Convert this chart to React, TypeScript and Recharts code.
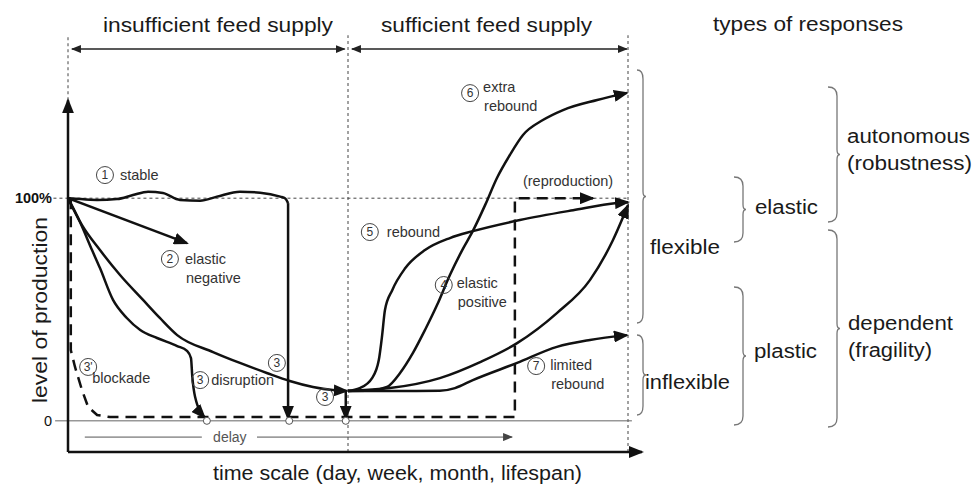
import React from 'react';
import { LineChart, Line, XAxis, YAxis, ReferenceLine, ReferenceDot } from 'recharts';

type Pt = [number, number];

// x = time (0 = start of shortage, 50 = feed restored, 100 = end), y = % of production
const stableCurve: Pt[] = [
  [0, 100], [0.7, 99.9], [5.2, 99.2], [8.75, 99.6], [11.6, 101.4], [14.3, 102.9], [16.95, 102.3],
  [20, 99.2], [23.6, 98.9], [26.6, 100.7], [30.7, 102.9], [34.3, 102.5], [37.9, 100.7], [38.8, 99.9], [39.3, 97.8],
];
const stableDrop: Pt[] = [[39.3, 97.8], [39.3, 1]];
const elasticNegative: Pt[] = [[0, 100], [21.25, 79.8]];
const disruption: Pt[] = [
  [0, 100], [2.14, 89.3], [4.29, 76.7], [5.71, 68.6], [8.04, 54.3], [10.5, 46.2], [12.9, 40.8],
  [15.9, 37.2], [19.5, 33.6], [21.25, 31.4], [21.96, 28.2], [22.2, 19.7], [22.7, 10.7], [24.4, 1.5],
];
const gradualDecline: Pt[] = [
  [0, 100], [2.5, 87.9], [5.71, 76.7], [9.29, 65.5], [13.4, 54.3], [16.4, 46.2], [19.5, 38.5],
  [25.9, 30.9], [30.7, 26.0], [35.5, 21.5], [39.6, 17.9], [43.75, 15.2], [47.3, 13.8], [49.8, 13.4],
];
const lateDrop: Pt[] = [[49.6, 13], [49.6, 1]];
const blockade: Pt[] = [
  [0.5, 100], [0.5, 31.8], [1.25, 24.2], [2.5, 13.8], [3.6, 6.2], [5.2, 2.6], [7.5, 1.7],
  [79.8, 1.7], [79.8, 100], [93.75, 100],
];
const rebound: Pt[] = [
  [50, 13.4], [52.1, 14.7], [54.3, 19.2], [55.5, 27.3], [56.1, 38.5], [56.6, 49.8], [57.9, 58.7],
  [60.2, 68.5], [63.75, 76.7], [68.2, 82.1], [72.3, 85.2], [80.7, 90.2], [90.2, 94.6], [98, 97.8], [100, 98.2],
];
const extraRebound: Pt[] = [
  [50, 13.4], [54, 13.6], [56.96, 15.2], [59.3, 21.5], [61.6, 30.5], [63.75, 40.8], [65.9, 52.0],
  [68.2, 65.5], [70.4, 76.7], [72.3, 85.3], [74.5, 97.0], [76.6, 109.1], [78.9, 119.4], [81.25, 128.4],
  [84.8, 135.1], [88.4, 139.6], [94.5, 144.1], [99.8, 147.3],
];
const elasticPositive: Pt[] = [
  [50, 13.4], [57.5, 14.7], [66.4, 19.2], [73.6, 26.4], [80.2, 34.9], [87.3, 48.4], [93.2, 63.2],
  [97.3, 81.1], [100, 96.8],
];
const limitedRebound: Pt[] = [
  [50, 13.4], [60, 13.4], [66.4, 13.5], [69.1, 14.7], [72.3, 18.3], [80.2, 26.0], [87.3, 33.2],
  [93.2, 36.3], [99.8, 38.5],
];
const zeroMarks = [24.8, 39.5, 49.6];
const yTicks = [0, 100];

const notes = [
  { n: '1', x: 6.6, y: 110.4, lines: ['stable'] },
  { n: '2', x: 18.2, y: 72.7, lines: ['elastic', 'negative'] },
  { n: "3'", x: 3.6, y: 24.2, lines: ['blockade'], dx: 4, dy: 16 },
  { n: '3', x: 23.6, y: 18.3, lines: ['disruption'], dx: 11 },
  { n: '3', x: 37.3, y: 26.0, lines: [] },
  { n: '3', x: 45.9, y: 10.7, lines: [] },
  { n: '4', x: 67.1, y: 61.0, lines: ['elastic', 'positive'], dx: 13, dy: 3 },
  { n: '5', x: 53.9, y: 84.8, lines: ['rebound'], dx: 17 },
  { n: '6', x: 71.8, y: 147.2, lines: ['extra', 'rebound'], dx: 13, dy: -1 },
  { n: '7', x: 83.6, y: 24.6, lines: ['limited', 'rebound'], dx: 14, dy: 4 },
];

const FONT = "'Liberation Sans', Arial, Helvetica, sans-serif";
const ink = '#111';

const toRows = (pts: Pt[]) => pts.map(([x, y]) => ({ x, y }));

const Note = ({ cx, cy, note }: any) => {
  const dx = note.dx ?? 15;
  const dy = note.dy ?? 5;
  return (
    <g>
      <circle cx={cx} cy={cy} r={8.5} fill="none" stroke="#444" strokeWidth={1} />
      <text x={cx} y={cy + 4} textAnchor="middle" fontSize={12} fill="#333" fontFamily={FONT}>{note.n}</text>
      {note.lines.map((t: string, i: number) => (
        <text key={i} x={cx + dx + (i > 0 ? 1 : 0)} y={cy + dy + i * 19} fontSize={14.5} fill="#333" fontFamily={FONT}>{t}</text>
      ))}
    </g>
  );
};

const YTick = ({ x, y, payload }: any) => (
  <text x={x} y={y} dy={5} textAnchor="end" fontSize={14.5} fontWeight={payload.value === 100 ? 700 : 400} fill={ink} fontFamily={FONT}>
    {payload.value === 100 ? '100%' : '0'}
  </text>
);

const brace = (x0: number, x1: number, y0: number, y1: number) => {
  const ym = (y0 + y1) / 2;
  return `M${x0},${y0} Q${x1},${y0} ${x1},${y0 + 9} L${x1},${ym - 5} Q${x1},${ym} ${x1 + 3},${ym} Q${x1},${ym} ${x1},${ym + 5} L${x1},${y1 - 9} Q${x1},${y1} ${x0},${y1}`;
};

const braces = [
  [637, 643, 70, 323],
  [637, 643, 335, 415],
  [734, 743, 177, 242],
  [734, 743, 287, 425],
  [828, 837, 87, 222],
  [828, 837, 230, 427],
];

const T = ({ x, y, w, children, size = 20 }: any) => (
  <text x={x} y={y} fontSize={size} fill="#1a1a1a" fontFamily={FONT} textLength={w} lengthAdjust="spacingAndGlyphs">{children}</text>
);

const curveProps = {
  dataKey: 'y',
  stroke: ink,
  strokeWidth: 2.5,
  dot: false,
  activeDot: false,
  isAnimationActive: false,
  fill: 'none',
} as const;

export default function App() {
  return (
    <div style={{ position: 'absolute', left: 0, top: 0, width: 974, height: 486, background: '#fff' }}>
      <svg width={0} height={0} style={{ position: 'absolute' }}>
        <defs>
          <marker id="ah" markerUnits="userSpaceOnUse" markerWidth={15} markerHeight={12} refX={13} refY={6} orient="auto-start-reverse">
            <path d="M0,0 L15,6 L0,12 z" fill={ink} />
          </marker>
          <marker id="ahs" markerUnits="userSpaceOnUse" markerWidth={10} markerHeight={8} refX={9} refY={4} orient="auto-start-reverse">
            <path d="M0,0 L10,4 L0,8 z" fill="#222" />
          </marker>
          <marker id="ahg" markerUnits="userSpaceOnUse" markerWidth={10} markerHeight={8} refX={9} refY={4} orient="auto-start-reverse">
            <path d="M0,0 L10,4 L0,8 z" fill="#444" />
          </marker>
        </defs>
      </svg>
      <LineChart width={974} height={486} margin={{ top: 88, right: 332, bottom: 34, left: 8 }}>
        <XAxis type="number" dataKey="x" domain={[0, 102.5]} allowDataOverflow hide />
        <YAxis
          type="number"
          domain={[-14, 149.5]}
          allowDataOverflow
          ticks={yTicks}
          interval={0}
          width={60}
          axisLine={false}
          tickLine={false}
          tickSize={8}
          tickMargin={8}
          tick={<YTick />}
        />

        {/* guides */}
        <ReferenceLine segment={[{ x: 0, y: 144 }, { x: 0, y: 173.2 }]} stroke="#444" strokeDasharray="3 3" ifOverflow="visible" />
        <ReferenceLine segment={[{ x: 50, y: -14 }, { x: 50, y: 173.2 }]} stroke="#444" strokeDasharray="3 3" ifOverflow="visible" />
        <ReferenceLine segment={[{ x: 100, y: -14 }, { x: 100, y: 173.2 }]} stroke="#444" strokeDasharray="3 3" ifOverflow="visible" />
        <ReferenceLine segment={[{ x: -2.6, y: 100 }, { x: 100, y: 100 }]} stroke="#444" strokeDasharray="3 3" ifOverflow="visible" />
        <ReferenceLine segment={[{ x: -2.3, y: 0 }, { x: 100.7, y: 0 }]} stroke="#666" strokeWidth={1} ifOverflow="visible" />
        <ReferenceLine segment={[{ x: 0.7, y: 167 }, { x: 49.4, y: 167 }]} stroke="#222" strokeWidth={1.5} markerStart="url(#ahs)" markerEnd="url(#ahs)" ifOverflow="visible" />
        <ReferenceLine segment={[{ x: 50.7, y: 167 }, { x: 99.8, y: 167 }]} stroke="#222" strokeWidth={1.5} markerStart="url(#ahs)" markerEnd="url(#ahs)" ifOverflow="visible" />
        <ReferenceLine segment={[{ x: 3.0, y: -7.3 }, { x: 23.9, y: -7.3 }]} stroke="#555" strokeWidth={1} ifOverflow="visible" />
        <ReferenceLine segment={[{ x: 33.75, y: -7.3 }, { x: 79.3, y: -7.3 }]} stroke="#555" strokeWidth={1} markerEnd="url(#ahg)" ifOverflow="visible" />

        {/* axes */}
        <ReferenceLine segment={[{ x: 0, y: -14 }, { x: 102.5, y: -14 }]} stroke={ink} strokeWidth={2.5} markerEnd="url(#ah)" ifOverflow="visible" />
        <ReferenceLine segment={[{ x: 0, y: -14 }, { x: 0, y: 144 }]} stroke={ink} strokeWidth={2.5} markerEnd="url(#ah)" ifOverflow="visible" />

        {/* responses */}
        <Line {...curveProps} data={toRows(blockade)} type="linear" strokeDasharray="11 7" markerEnd="url(#ah)" />
        <Line {...curveProps} data={toRows(stableCurve)} type="monotone" />
        <Line {...curveProps} data={toRows(stableDrop)} type="linear" markerEnd="url(#ah)" />
        <Line {...curveProps} data={toRows(elasticNegative)} type="linear" markerEnd="url(#ah)" />
        <Line {...curveProps} data={toRows(disruption)} type="monotone" markerEnd="url(#ah)" />
        <Line {...curveProps} data={toRows(gradualDecline)} type="monotone" markerEnd="url(#ah)" />
        <Line {...curveProps} data={toRows(lateDrop)} type="linear" markerEnd="url(#ah)" />
        <Line {...curveProps} data={toRows(rebound)} type="monotone" markerEnd="url(#ah)" />
        <Line {...curveProps} data={toRows(extraRebound)} type="monotone" markerEnd="url(#ah)" />
        <Line {...curveProps} data={toRows(elasticPositive)} type="monotone" markerEnd="url(#ah)" />
        <Line {...curveProps} data={toRows(limitedRebound)} type="monotone" markerEnd="url(#ah)" />

        {zeroMarks.map((x, i) => (
          <ReferenceDot key={'z' + i} x={x} y={0} r={3.5} fill="#fff" stroke="#555" strokeWidth={1} ifOverflow="visible" />
        ))}

        {notes.map((note, i) => (
          <ReferenceDot key={'n' + i} x={note.x} y={note.y} r={8.5} ifOverflow="visible" shape={(p: any) => <Note cx={p.cx} cy={p.cy} note={note} />} />
        ))}
        <ReferenceDot x={89.3} y={105.5} r={1} ifOverflow="visible" shape={(p: any) => (
          <text x={p.cx} y={p.cy} textAnchor="middle" fontSize={14.5} fill="#333" fontFamily={FONT}>(reproduction)</text>
        )} />
        <ReferenceDot x={28.9} y={-7.3} r={1} ifOverflow="visible" shape={(p: any) => (
          <text x={p.cx} y={p.cy + 5} textAnchor="middle" fontSize={14} fill="#555" fontFamily={FONT}>delay</text>
        )} />

        {/* titles and response types */}
        <g>
          <T x={103} y={32} w={230}>insufficient feed supply</T>
          <T x={381} y={32} w={211}>sufficient feed supply</T>
          <T x={713} y={31} w={190}>types of responses</T>
          <T x={213} y={480} w={369}>time scale (day, week, month, lifespan)</T>
          <text x={0} y={0} transform="translate(47,310) rotate(-90)" textAnchor="middle" fontSize={21} fill="#1a1a1a" fontFamily={FONT} textLength={186} lengthAdjust="spacingAndGlyphs">level of production</text>
          {braces.map((b, i) => (
            <path key={i} d={brace(b[0], b[1], b[2], b[3])} fill="none" stroke="#777" strokeWidth={1.3} />
          ))}
          <T x={650} y={254} w={70}>flexible</T>
          <T x={645} y={389} w={85}>inflexible</T>
          <T x={755} y={214} w={63}>elastic</T>
          <T x={754} y={358} w={63}>plastic</T>
          <T x={847} y={143} w={123}>autonomous</T>
          <T x={847} y={170} w={125}>(robustness)</T>
          <T x={848} y={330} w={105}>dependent</T>
          <T x={848} y={357} w={84}>(fragility)</T>
        </g>
      </LineChart>
    </div>
  );
}
